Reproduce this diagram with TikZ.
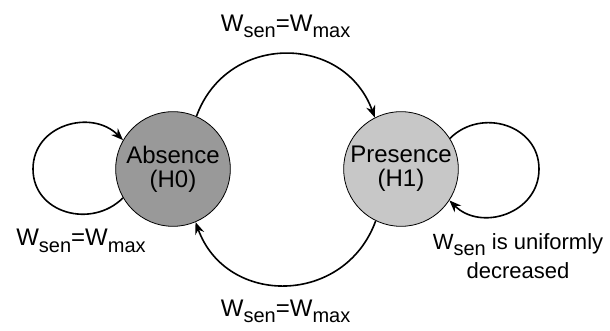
\documentclass[tikz,border=0pt]{standalone}
\usepackage{fontspec}
\setmainfont{Liberation Sans}
\usepackage{tikz}
\usetikzlibrary{arrows.meta, positioning}
\newcommand{\lowtext}[1]{\raisebox{-0.28em}{\fontsize{15}{15}\selectfont #1}}
\tikzstyle{hypstate} = [circle, minimum size=86pt, inner sep=0pt, align=center, draw=black, line width=0.6pt, font=\fontsize{18}{18}\selectfont]
\tikzstyle{arrow} = [line width=1.2pt,-{Stealth[length=9pt,width=7pt]}]
\tikzstyle{lab} = [font=\fontsize{18}{24}\selectfont, align=center]

\begin{document}
\begin{tikzpicture}[x=0.75pt, y=0.75pt, node distance=171pt]
\useasboundingbox (0,0) rectangle (610,331);

% States
\node (absence) [hypstate, fill=black!40] at (173,162) {Absence\\(H0)};
\node (presence) [hypstate, fill=black!22, right of=absence] {Presence\\(H1)};

% Transitions
\draw [arrow] (absence.66) to[out=70, in=110, looseness=1.28]
  node (uplab) [lab, above=8pt] {W\lowtext{sen}=W\lowtext{max}} (presence.117);
\draw [arrow] (presence.244) to[out=-110, in=-70, looseness=1.28]
  node (downlab) [lab, below=7pt] {W\lowtext{sen}=W\lowtext{max}} (absence.293);

% Self loops
\coordinate (lefttip) at (33,162);
\coordinate (righttip) at (539,162);
\draw [arrow] (absence.210) to[out=225, in=-90, looseness=1.2] (lefttip)
  to[out=90, in=135, looseness=1.2] (absence.150);
\draw [arrow] (presence.32) to[out=45, in=90, looseness=1.2] (righttip)
  to[out=-90, in=-45, looseness=1.2] (presence.-33);

\node (staylab) [lab] at (81,90) {W\lowtext{sen}=W\lowtext{max}};
\node (declab) [lab, font=\fontsize{16.5}{22}\selectfont] at (518,75) {W\lowtext{sen} is uniformly\\decreased};

\end{tikzpicture}
\end{document}
